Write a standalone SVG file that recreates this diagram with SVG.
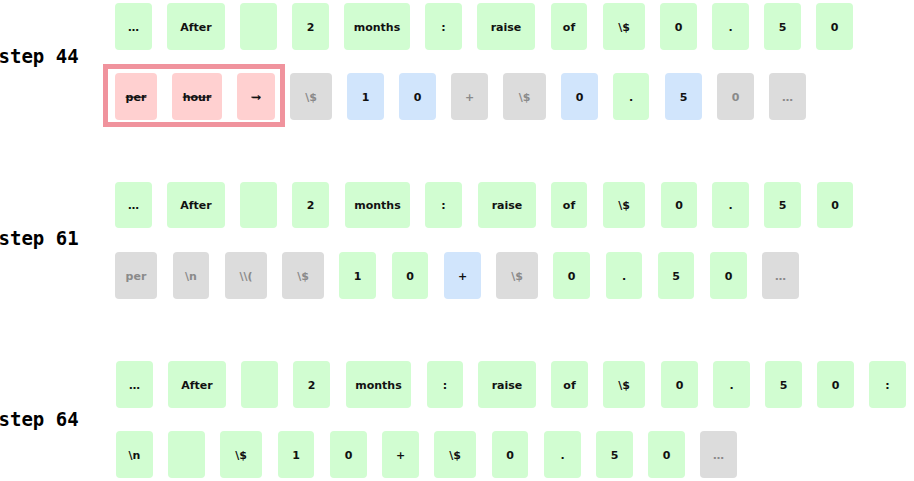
<svg xmlns="http://www.w3.org/2000/svg" width="914" height="481" viewBox="0 0 914 481">
<style>
.g{fill:#d1fdd1}.r{fill:#ffd0d0}.x{fill:#dcdcdc}.b{fill:#d1e5fc}
text.t{font-family:"DejaVu Sans",sans-serif;font-weight:bold;font-size:11px;text-anchor:middle;fill:#111}
text.tg{fill:#8a8a8a}
text.ts{text-decoration:line-through}
text.lbl{font-family:"DejaVu Sans Mono",monospace;font-weight:bold;font-size:19px;fill:#000}
.hl{fill:none;stroke:#f0939d;stroke-width:5}
</style>
<rect width="914" height="481" fill="#fff"/>
<g id="labels">
<text class="lbl" x="-1.5" y="63">step 44</text>
<text class="lbl" x="-1.5" y="245">step 61</text>
<text class="lbl" x="-1.5" y="426">step 64</text>
</g>
<g id="connectors"/>
<g id="step44-row1">
<g id="s44a1"><rect class="g" x="115" y="3" width="37" height="47" rx="4"/><text class="t" x="133.5" y="30.5">…</text></g>
<g id="s44a2"><rect class="g" x="167" y="3" width="58" height="47" rx="4"/><text class="t" x="196" y="30.5">After</text></g>
<g id="s44a3"><rect class="g" x="240" y="3" width="37" height="47" rx="4"/></g>
<g id="s44a4"><rect class="g" x="292" y="3" width="37" height="47" rx="4"/><text class="t" x="310.5" y="30.5">2</text></g>
<g id="s44a5"><rect class="g" x="344" y="3" width="66" height="47" rx="4"/><text class="t" x="377" y="30.5">months</text></g>
<g id="s44a6"><rect class="g" x="425" y="3" width="37" height="47" rx="4"/><text class="t" x="443.5" y="30.5">:</text></g>
<g id="s44a7"><rect class="g" x="477" y="3" width="58" height="47" rx="4"/><text class="t" x="506" y="30.5">raise</text></g>
<g id="s44a8"><rect class="g" x="551" y="3" width="36" height="47" rx="4"/><text class="t" x="569" y="30.5">of</text></g>
<g id="s44a9"><rect class="g" x="603" y="3" width="42" height="47" rx="4"/><text class="t" x="624" y="30.5">\$</text></g>
<g id="s44a10"><rect class="g" x="660" y="3" width="37" height="47" rx="4"/><text class="t" x="678.5" y="30.5">0</text></g>
<g id="s44a11"><rect class="g" x="712" y="3" width="37" height="47" rx="4"/><text class="t" x="730.5" y="30.5">.</text></g>
<g id="s44a12"><rect class="g" x="764" y="3" width="37" height="47" rx="4"/><text class="t" x="782.5" y="30.5">5</text></g>
<g id="s44a13"><rect class="g" x="816" y="3" width="37" height="47" rx="4"/><text class="t" x="834.5" y="30.5">0</text></g>
</g>
<g id="step44-row2">
<rect id="highlight" class="hl" x="105.5" y="66.5" width="177" height="58"/>
<g id="s44b1"><rect class="r" x="115" y="73" width="42" height="47" rx="4"/><text class="t ts" x="136" y="100.5">per</text></g>
<g id="s44b2"><rect class="r" x="172" y="73" width="50" height="47" rx="4"/><text class="t ts" x="197" y="100.5">hour</text></g>
<g id="s44b3"><rect class="r" x="237" y="73" width="38" height="47" rx="4"/><text class="t ts" x="256" y="100.5">→</text></g>
<g id="s44b4"><rect class="x" x="290" y="73" width="42" height="47" rx="4"/><text class="t tg" x="311" y="100.5">\$</text></g>
<g id="s44b5"><rect class="b" x="347" y="73" width="37" height="47" rx="4"/><text class="t" x="365.5" y="100.5">1</text></g>
<g id="s44b6"><rect class="b" x="399" y="73" width="37" height="47" rx="4"/><text class="t" x="417.5" y="100.5">0</text></g>
<g id="s44b7"><rect class="x" x="451" y="73" width="37" height="47" rx="4"/><text class="t tg" x="469.5" y="100.5">+</text></g>
<g id="s44b8"><rect class="x" x="503" y="73" width="43" height="47" rx="4"/><text class="t tg" x="524.5" y="100.5">\$</text></g>
<g id="s44b9"><rect class="b" x="561" y="73" width="37" height="47" rx="4"/><text class="t" x="579.5" y="100.5">0</text></g>
<g id="s44b10"><rect class="g" x="613" y="73" width="36" height="47" rx="4"/><text class="t" x="631" y="100.5">.</text></g>
<g id="s44b11"><rect class="b" x="665" y="73" width="37" height="47" rx="4"/><text class="t" x="683.5" y="100.5">5</text></g>
<g id="s44b12"><rect class="x" x="717" y="73" width="37" height="47" rx="4"/><text class="t tg" x="735.5" y="100.5">0</text></g>
<g id="s44b13"><rect class="x" x="769" y="73" width="37" height="47" rx="4"/><text class="t tg" x="787.5" y="100.5">…</text></g>
</g>
<g id="step61-row1">
<g id="s61a1"><rect class="g" x="115" y="182" width="37" height="46" rx="4"/><text class="t" x="133.5" y="209">…</text></g>
<g id="s61a2"><rect class="g" x="167" y="182" width="58" height="46" rx="4"/><text class="t" x="196" y="209">After</text></g>
<g id="s61a3"><rect class="g" x="240" y="182" width="37" height="46" rx="4"/></g>
<g id="s61a4"><rect class="g" x="292" y="182" width="37" height="46" rx="4"/><text class="t" x="310.5" y="209">2</text></g>
<g id="s61a5"><rect class="g" x="345" y="182" width="65" height="46" rx="4"/><text class="t" x="377.5" y="209">months</text></g>
<g id="s61a6"><rect class="g" x="425" y="182" width="37" height="46" rx="4"/><text class="t" x="443.5" y="209">:</text></g>
<g id="s61a7"><rect class="g" x="478" y="182" width="58" height="46" rx="4"/><text class="t" x="507" y="209">raise</text></g>
<g id="s61a8"><rect class="g" x="551" y="182" width="36" height="46" rx="4"/><text class="t" x="569" y="209">of</text></g>
<g id="s61a9"><rect class="g" x="603" y="182" width="42" height="46" rx="4"/><text class="t" x="624" y="209">\$</text></g>
<g id="s61a10"><rect class="g" x="661" y="182" width="36" height="46" rx="4"/><text class="t" x="679" y="209">0</text></g>
<g id="s61a11"><rect class="g" x="712" y="182" width="37" height="46" rx="4"/><text class="t" x="730.5" y="209">.</text></g>
<g id="s61a12"><rect class="g" x="764" y="182" width="37" height="46" rx="4"/><text class="t" x="782.5" y="209">5</text></g>
<g id="s61a13"><rect class="g" x="817" y="182" width="36" height="46" rx="4"/><text class="t" x="835" y="209">0</text></g>
</g>
<g id="step61-row2">
<g id="s61b1"><rect class="x" x="115" y="252" width="42" height="47" rx="4"/><text class="t tg" x="136" y="279.5">per</text></g>
<g id="s61b2"><rect class="x" x="173" y="252" width="36" height="47" rx="4"/><text class="t tg" x="191" y="279.5">\n</text></g>
<g id="s61b3"><rect class="x" x="225" y="252" width="42" height="47" rx="4"/><text class="t tg" x="246" y="279.5">\\(</text></g>
<g id="s61b4"><rect class="x" x="282" y="252" width="42" height="47" rx="4"/><text class="t tg" x="303" y="279.5">\$</text></g>
<g id="s61b5"><rect class="g" x="339" y="252" width="37" height="47" rx="4"/><text class="t" x="357.5" y="279.5">1</text></g>
<g id="s61b6"><rect class="g" x="392" y="252" width="36" height="47" rx="4"/><text class="t" x="410" y="279.5">0</text></g>
<g id="s61b7"><rect class="b" x="444" y="252" width="37" height="47" rx="4"/><text class="t" x="462.5" y="279.5">+</text></g>
<g id="s61b8"><rect class="x" x="496" y="252" width="42" height="47" rx="4"/><text class="t tg" x="517" y="279.5">\$</text></g>
<g id="s61b9"><rect class="g" x="553" y="252" width="37" height="47" rx="4"/><text class="t" x="571.5" y="279.5">0</text></g>
<g id="s61b10"><rect class="g" x="606" y="252" width="36" height="47" rx="4"/><text class="t" x="624" y="279.5">.</text></g>
<g id="s61b11"><rect class="g" x="658" y="252" width="36" height="47" rx="4"/><text class="t" x="676" y="279.5">5</text></g>
<g id="s61b12"><rect class="g" x="710" y="252" width="37" height="47" rx="4"/><text class="t" x="728.5" y="279.5">0</text></g>
<g id="s61b13"><rect class="x" x="762" y="252" width="37" height="47" rx="4"/><text class="t tg" x="780.5" y="279.5">…</text></g>
</g>
<g id="step64-row1">
<g id="s64a1"><rect class="g" x="116" y="361" width="37" height="47" rx="4"/><text class="t" x="134.5" y="388.5">…</text></g>
<g id="s64a2"><rect class="g" x="168" y="361" width="58" height="47" rx="4"/><text class="t" x="197" y="388.5">After</text></g>
<g id="s64a3"><rect class="g" x="241" y="361" width="37" height="47" rx="4"/></g>
<g id="s64a4"><rect class="g" x="293" y="361" width="37" height="47" rx="4"/><text class="t" x="311.5" y="388.5">2</text></g>
<g id="s64a5"><rect class="g" x="346" y="361" width="65" height="47" rx="4"/><text class="t" x="378.5" y="388.5">months</text></g>
<g id="s64a6"><rect class="g" x="427" y="361" width="36" height="47" rx="4"/><text class="t" x="445" y="388.5">:</text></g>
<g id="s64a7"><rect class="g" x="478" y="361" width="58" height="47" rx="4"/><text class="t" x="507" y="388.5">raise</text></g>
<g id="s64a8"><rect class="g" x="551" y="361" width="37" height="47" rx="4"/><text class="t" x="569.5" y="388.5">of</text></g>
<g id="s64a9"><rect class="g" x="603" y="361" width="42" height="47" rx="4"/><text class="t" x="624" y="388.5">\$</text></g>
<g id="s64a10"><rect class="g" x="661" y="361" width="37" height="47" rx="4"/><text class="t" x="679.5" y="388.5">0</text></g>
<g id="s64a11"><rect class="g" x="713" y="361" width="37" height="47" rx="4"/><text class="t" x="731.5" y="388.5">.</text></g>
<g id="s64a12"><rect class="g" x="765" y="361" width="37" height="47" rx="4"/><text class="t" x="783.5" y="388.5">5</text></g>
<g id="s64a13"><rect class="g" x="817" y="361" width="37" height="47" rx="4"/><text class="t" x="835.5" y="388.5">0</text></g>
<g id="s64a14"><rect class="g" x="869" y="361" width="37" height="47" rx="4"/><text class="t" x="887.5" y="388.5">:</text></g>
</g>
<g id="step64-row2">
<g id="s64b1"><rect class="g" x="116" y="431" width="37" height="47" rx="4"/><text class="t" x="134.5" y="458.5">\n</text></g>
<g id="s64b2"><rect class="g" x="168" y="431" width="37" height="47" rx="4"/></g>
<g id="s64b3"><rect class="g" x="220" y="431" width="42" height="47" rx="4"/><text class="t" x="241" y="458.5">\$</text></g>
<g id="s64b4"><rect class="g" x="278" y="431" width="36" height="47" rx="4"/><text class="t" x="296" y="458.5">1</text></g>
<g id="s64b5"><rect class="g" x="330" y="431" width="37" height="47" rx="4"/><text class="t" x="348.5" y="458.5">0</text></g>
<g id="s64b6"><rect class="g" x="382" y="431" width="37" height="47" rx="4"/><text class="t" x="400.5" y="458.5">+</text></g>
<g id="s64b7"><rect class="g" x="434" y="431" width="42" height="47" rx="4"/><text class="t" x="455" y="458.5">\$</text></g>
<g id="s64b8"><rect class="g" x="492" y="431" width="36" height="47" rx="4"/><text class="t" x="510" y="458.5">0</text></g>
<g id="s64b9"><rect class="g" x="544" y="431" width="37" height="47" rx="4"/><text class="t" x="562.5" y="458.5">.</text></g>
<g id="s64b10"><rect class="g" x="596" y="431" width="37" height="47" rx="4"/><text class="t" x="614.5" y="458.5">5</text></g>
<g id="s64b11"><rect class="g" x="648" y="431" width="37" height="47" rx="4"/><text class="t" x="666.5" y="458.5">0</text></g>
<g id="s64b12"><rect class="x" x="700" y="431" width="37" height="47" rx="4"/><text class="t tg" x="718.5" y="458.5">…</text></g>
</g>
</svg>
